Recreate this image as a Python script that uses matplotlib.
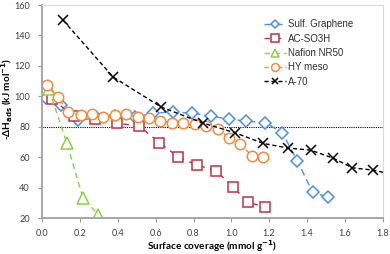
import matplotlib
matplotlib.use('Agg')
import matplotlib.pyplot as plt

# ── Data ──────────────────────────────────────────────────────────────────────
sg_x = [0.02, 0.10, 0.19, 0.29, 0.385, 0.49, 0.585, 0.69, 0.79, 0.89, 0.99,
        1.08, 1.18, 1.27, 1.35, 1.43, 1.51]
sg_y = [99, 94, 84.3, 85.7, 87, 86.3, 89, 89.6, 89, 87, 85,
        83.7, 82.7, 76, 57.4, 37, 33.7]

ac_x = [0.05, 0.17, 0.28, 0.395, 0.51, 0.62, 0.72, 0.82, 0.92, 1.01, 1.09, 1.18]
ac_y = [98, 87, 85.3, 82.2, 80.7, 69.5, 60, 54.7, 51, 40.3, 30.4, 27]

naf_x = [0.035, 0.13, 0.215, 0.295, 0.40]
naf_y = [104.5, 69.2, 33, 22.3, 12]

hy_x = [0.023, 0.081, 0.138, 0.205, 0.261, 0.323, 0.385, 0.443, 0.505, 0.565,
        0.623, 0.686, 0.745, 0.808, 0.866, 0.930, 0.988, 1.046, 1.110, 1.168]
hy_y = [107.4, 99.3, 89.8, 87.6, 88.3, 86.1, 87.6, 88.1, 86.5, 85.5,
        83.7, 82.7, 82.4, 81.7, 80.7, 78.8, 72.5, 68.9, 60.7, 60.0]

a70_x = [0.11, 0.375, 0.63, 0.85, 1.02, 1.17, 1.30, 1.42, 1.54, 1.64, 1.75, 1.86]
a70_y = [150, 112.6, 92.9, 82.4, 76, 69, 66, 64.6, 59.3, 53, 51.5, 48.5]

x_ticks = [0.0, 0.2, 0.4, 0.6, 0.8, 1.0, 1.2, 1.4, 1.6, 1.8]
y_ticks = [20, 40, 60, 80, 100, 120, 140, 160]
ref_level = 80

# ── Figure ────────────────────────────────────────────────────────────────────
fig = plt.figure(figsize=(3.9, 2.54), dpi=100)
ax = fig.add_axes([0.1085, 0.1417, 0.8723, 0.8386])

tick_font = 'Lato'
leg_font = 'Liberation Sans'

ax.plot(sg_x, sg_y, color='#4A8FEA', ls=(0, (5, 3)), lw=1.0, marker='D',
        ms=6, mfc='white', mec='#4A8FEA', mew=1.1, label='Sulf. Graphene')
ax.plot(ac_x, ac_y, color='#C0304A', ls=(0, (4, 4)), lw=1.0, marker='s',
        ms=7, mfc='white', mec='#C0304A', mew=1.1, label='AC-SO3H')
ax.plot(naf_x, naf_y, color='#8ED146', ls=(0, (4, 3)), lw=1.0, marker='^',
        ms=8, mfc='white', mec='#8ED146', mew=1.1, label='Nafion NR50')
ax.plot(hy_x, hy_y, color='#F7893A', ls=(0, (3, 2)), lw=1.0, marker='o',
        ms=7.5, mfc='white', mec='#F7893A', mew=1.1, label='HY meso')
ax.plot(a70_x, a70_y, color='black', ls=(0, (3, 2)), lw=1.0, marker='x',
        ms=6.5, mew=1.1, label='A-70')

ax.axhline(ref_level, color='black', ls=(0, (1, 1)), lw=0.8, zorder=0)

ax.set_xlim(0, 1.8)
ax.set_ylim(20, 160)
ax.set_xticks(x_ticks)
ax.set_xticklabels([f'{v:.1f}' for v in x_ticks], family=tick_font,
                   fontsize=6.6, color='#404040')
ax.set_yticks(y_ticks)
ax.set_yticklabels([str(v) for v in y_ticks], family=tick_font,
                   fontsize=6.6, color='#404040')
ax.tick_params(direction='out', length=3, width=0.8, color='#9a9a9a')
ax.tick_params(axis='y', pad=6)
ax.tick_params(axis='x', pad=5)

for side in ['left', 'bottom']:
    ax.spines[side].set_color('#a6a6a6')
    ax.spines[side].set_linewidth(1.4)
for side in ['top', 'right']:
    ax.spines[side].set_color('#d9d9d9')
    ax.spines[side].set_linewidth(0.8)

ax.set_xlabel('Surface coverage (mmol g$^{\\mathbf{-1}}$)', family=tick_font,
              fontweight='bold', fontsize=7.2)
ax.xaxis.set_label_coords(0.5, -0.095)
ax.set_ylabel('-\u0394H$_{\\mathbf{ads}}$ (kJ mol$^{\\mathbf{-1}}$)',
              family=tick_font, fontweight='bold', fontsize=7.2)
ax.yaxis.set_label_coords(-0.08, 0.56)

leg = ax.legend(loc='upper right', bbox_to_anchor=(0.93, 0.96), frameon=False,
                prop={'family': leg_font, 'size': 7}, handlelength=2.2,
                handletextpad=0.2, labelspacing=0.45, borderaxespad=0.2,
                markerscale=0.75)
for t in leg.get_texts():
    t.set_color('#303030')

fig.savefig('out.png', dpi=100)
